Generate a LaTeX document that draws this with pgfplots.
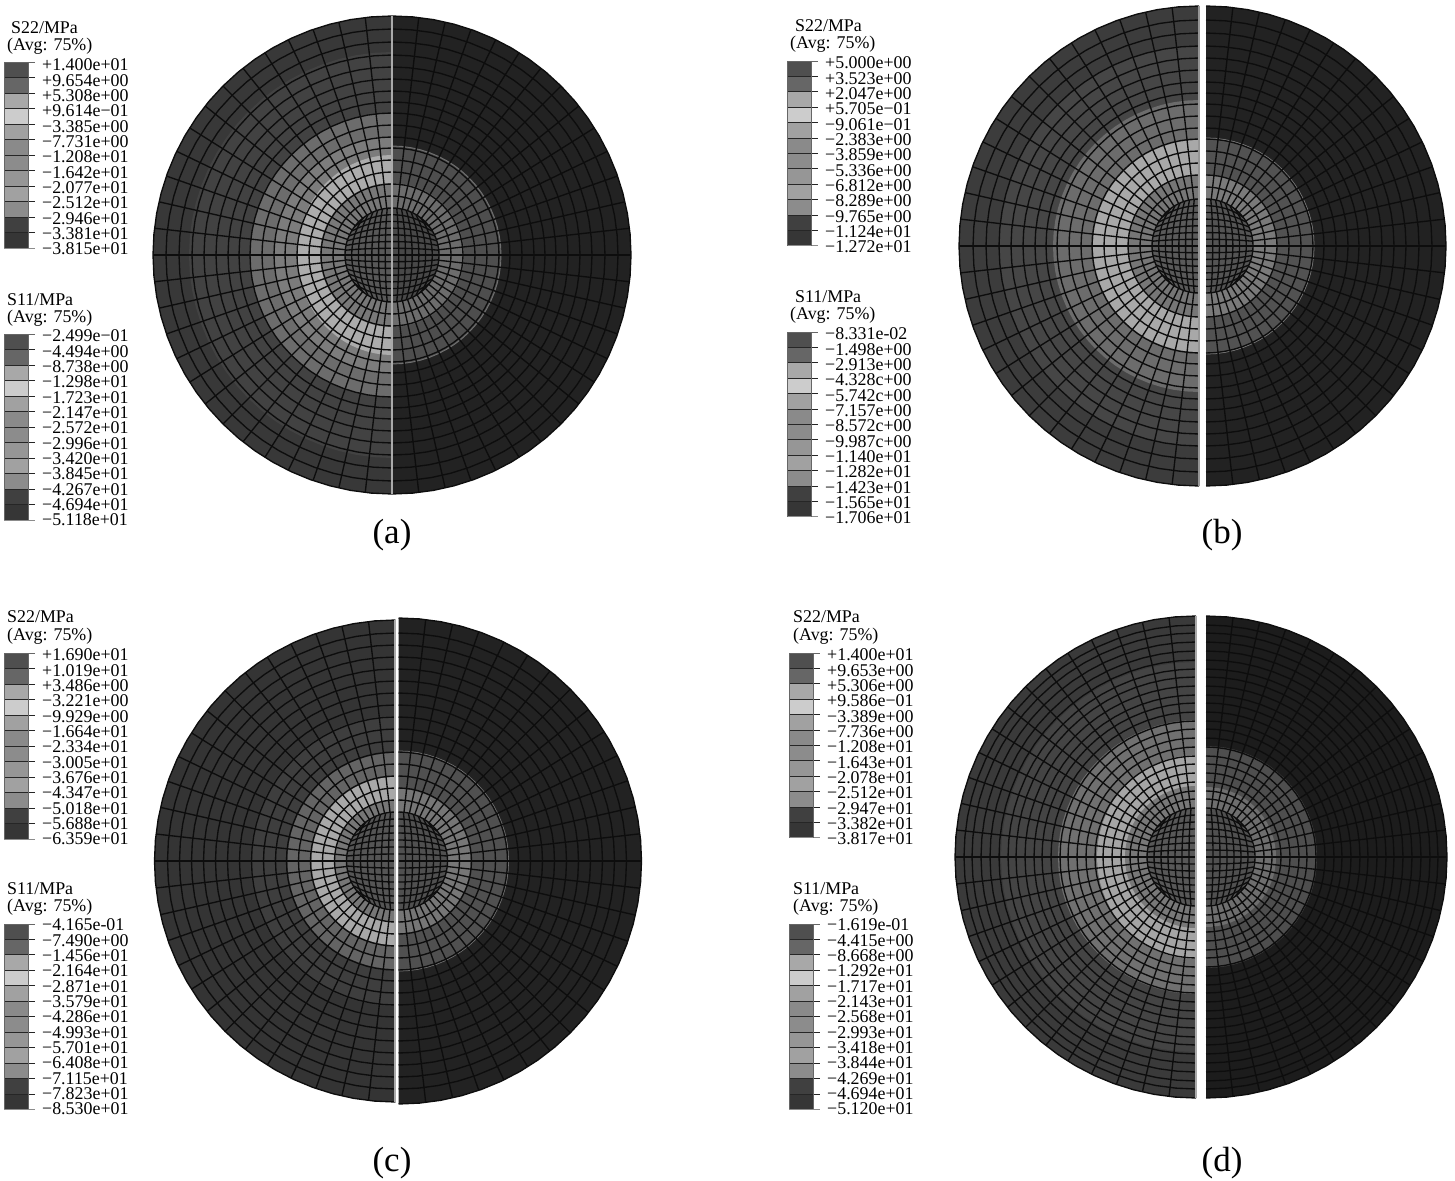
\documentclass[border=0pt]{standalone}
\usepackage{fontspec}
\setmainfont{Liberation Serif}
\usepackage{pgfplots}
\usepackage{pgfplotstable}
\pgfplotsset{compat=1.18,table/x index=0,table/y index=0}
\pgfplotstableread{
a
-90
-85
-80
-75
-70
-65
-60
-55
-50
-45
-40
-35
-30
-25
-20
-15
-10
-5
0
5
10
15
20
25
30
35
40
45
50
55
60
65
70
75
80
85
90
}\tArc
\pgfplotstableread{
t
0
1
}\tRad
\pgfplotstableread{
t
-1
-.875
-.75
-.625
-.5
-.375
-.25
-.125
0
.125
.25
.375
.5
.625
.75
.875
1
}\tFull
\pgfplotstableread{
t
0
.125
.25
.375
.5
.625
.75
.875
1
}\tHalf
\pgfplotstableread{
u v
0 0
1 0
1 1
0 1
}\tSq
\definecolor{lg0}{gray}{.31}
\definecolor{lg1}{gray}{.40}
\definecolor{lg2}{gray}{.66}
\definecolor{lg3}{gray}{.80}
\definecolor{lg4}{gray}{.63}
\definecolor{lg5}{gray}{.54}
\definecolor{lg6}{gray}{.55}
\definecolor{lg7}{gray}{.59}
\definecolor{lg8}{gray}{.63}
\definecolor{lg9}{gray}{.55}
\definecolor{lg10}{gray}{.25}
\definecolor{lg11}{gray}{.21}
\definecolor{mc}{gray}{.05}
\tikzset{mline/.style={draw=mc,line width=1.35pt,mark=none,line join=round}}
% cx cy s rx ry gray
\newcommand\band[6]{\addplot[fill={rgb,255:red,#6;green,#6;blue,#6},draw=none,mark=none]
  table[x expr=#1+#3*#4*cos(\thisrow{a}),y expr=#2+#5*sin(\thisrow{a})]{\tArc};}
\newcommand\rim[5]{\addplot[draw={rgb,255:red,#5;green,#5;blue,#5},line width=.9pt,mark=none]
  table[x expr=#1+#3*#4*cos(\thisrow{a}),y expr=#2+#4*sin(\thisrow{a})]{\tArc};}
\newcommand\ringp[4]{\addplot[mline]
  table[x expr=#1+#3*#4*cos(\thisrow{a}),y expr=#2+#4*sin(\thisrow{a})]{\tArc};}
% cx cy s r0 R angle
\newcommand\radp[6]{\addplot[mline]
  table[x expr=#1+#3*(#4+(#5-#4)*\thisrow{t})*cos(#6),y expr=#2+(#4+(#5-#4)*\thisrow{t})*sin(#6)]{\tRad};}
% cx cy s r u
\newcommand\corev[5]{\addplot[mline]
  table[x expr=#1+#3*#4*(#5)*sqrt(1-\thisrow{t}*\thisrow{t}/2),y expr=#2+#4*\thisrow{t}*sqrt(1-(#5)*(#5)/2)]{\tFull};}
\newcommand\coreh[5]{\addplot[mline]
  table[x expr=#1+#3*#4*\thisrow{t}*sqrt(1-(#5)*(#5)/2),y expr=#2+#4*(#5)*sqrt(1-\thisrow{t}*\thisrow{t}/2)]{\tHalf};}
% cx cy s r0 R rings
\newcommand\meshp[6]{%
  \pgfplotsinvokeforeach{#6}{\ringp{#1}{#2}{#3}{##1}}%
  \ringp{#1}{#2}{#3}{#4}%
  \pgfplotsinvokeforeach{-83.57,-77.14,-70.71,-64.29,-57.86,-51.43,-45,-38.57,-32.14,-25.71,-19.29,-12.86,-6.43,0,6.43,12.86,19.29,25.71,32.14,38.57,45,51.43,57.86,64.29,70.71,77.14,83.57}{\radp{#1}{#2}{#3}{#4}{#5}{##1}}%
  \pgfplotsinvokeforeach{.1429,.2857,.4286,.5714,.7143,.8571}{\corev{#1}{#2}{#3}{#4}{##1}}%
  \pgfplotsinvokeforeach{-.8571,-.7143,-.5714,-.4286,-.2857,-.1429,0,.1429,.2857,.4286,.5714,.7143,.8571}{\coreh{#1}{#2}{#3}{#4}{##1}}%
}
% x y0 dy
\newcommand\legbar[3]{%
  \pgfplotsinvokeforeach{0,1,2,3,4,5,6,7,8,9,10,11}{%
    \addplot[fill=lg##1,draw=none,mark=none] table[x expr=#1+24*\thisrow{u},y expr=#2+#3*(##1+\thisrow{v})]{\tSq};}%
  \pgfplotsinvokeforeach{1,2,3,4,5,6,7,8,9,10,11}{%
    \addplot[draw=black!85,line width=.9pt,mark=none] table[x expr=#1+31*\thisrow{t},y expr=#2+#3*##1]{\tRad};}%
  \addplot[draw=black!60,line width=.8pt,mark=none] table[x expr=#1+31*\thisrow{t},y expr=#2]{\tRad};
  \addplot[draw=black!45,line width=.8pt,mark=none] table[x expr=#1+31*\thisrow{t},y expr=#2+12*#3]{\tRad};
  \addplot[draw=black!60,line width=.8pt,mark=none] table[x expr=#1,y expr=#2+12*#3*\thisrow{t}]{\tRad};
  \addplot[draw=black!60,line width=.8pt,mark=none] table[x expr=#1+24,y expr=#2+12*#3*\thisrow{t}]{\tRad};
}
\newcommand\vln[4]{\addplot[draw={rgb,255:red,#4;green,#4;blue,#4},line width=1.2pt,mark=none] table[x expr=#1,y expr=#2+(#3-#2)*\thisrow{t}]{\tRad};}
\newcommand\legtext[5]{% labelx y0 dy, title1 y
  \foreach \v [count=\i from 0] in {#5}{%
    \pgfmathsetmacro\yy{1180-(#2+1+#3*\i)}%
    \node[lab] at (#1pt,\yy pt) {\v};}%
}
\newcommand\ttl[3]{\pgfmathsetmacro\yy{1180-#2}\node[lab] at (#1pt,\yy pt) {#3};}
\begin{document}
\begin{tikzpicture}[lab/.style={anchor=west,inner sep=0pt,font=\fontsize{17.9}{20}\selectfont},
  capt/.style={anchor=center,inner sep=0pt,font=\fontsize{35}{38}\selectfont}]
\path[use as bounding box] (0,0) rectangle (1455pt,1180pt);
\begin{axis}[at={(0,0)},anchor=south west,scale only axis,width=1455pt,height=1180pt,
  xmin=0,xmax=1455,ymin=0,ymax=1180,y dir=reverse,hide axis,clip=false]
% ---- (a) left
\band{392}{255}{-1}{239}{239}{56}
\band{392}{255}{-1}{203}{203}{66}
\band{392}{255}{-1}{142}{142}{108}
\band{392}{255}{-1}{118}{118}{124}
\band{392}{255}{-1}{95}{100}{172}
\band{392}{255}{-1}{72}{72}{120}
\band{392}{255}{-1}{47}{47}{88}
\meshp{392}{255}{-1}{47}{239}{59,71,83,95,107,118,130,142,153,164,176,188,200,213,226,239}
% (a) right
\band{392}{255}{1}{239}{239}{34}
\band{392}{255}{1}{109}{109}{78}
\rim{392}{255}{1}{109}{112}
\band{392}{255}{1}{72}{72}{108}
\band{392}{255}{1}{47}{47}{72}
\meshp{392}{255}{1}{47}{239}{59,71,83,95,107,118,130,142,153,164,176,188,200,213,226,239}
\vln{392}{16}{494}{170}
% ---- (b) left
\band{1199}{246}{-1}{240}{240}{60}
\band{1199}{246}{-1}{200}{200}{70}
\band{1199}{246}{-1}{146}{146}{108}
\band{1199}{246}{-1}{106}{106}{168}
\band{1199}{246}{-1}{71}{71}{118}
\band{1199}{246}{-1}{47}{47}{90}
\meshp{1199}{246}{-1}{47}{240}{59,71,83,95,107,118,130,142,153,164,176,188,200,213,226,240}
\band{1206}{246}{1}{240}{240}{34}
\band{1206}{246}{1}{108}{108}{82}
\rim{1206}{246}{1}{108}{125}
\band{1206}{246}{1}{71}{71}{122}
\band{1206}{246}{1}{47}{47}{84}
\meshp{1206}{246}{1}{47}{240}{59,71,83,95,107,118,130,142,153,164,176,188,200,213,226,240}
\vln{1199}{6}{486}{150}
% ---- (c)
\band{395.5}{861}{-1}{241}{241}{52}
\band{395.5}{861}{-1}{145}{145}{62}
\band{395.5}{861}{-1}{108}{108}{100}
\band{395.5}{861}{-1}{84}{84}{168}
\band{395.5}{861}{-1}{61}{61}{118}
\band{395.5}{861}{-1}{49}{49}{85}
\meshp{395.5}{861}{-1}{49}{241}{61,73,85,97,109,120,132,144,156,168,180,192,204,216,228,241}
\band{398.5}{861}{1}{243}{243}{34}
\band{398.5}{861}{1}{110}{110}{80}
\rim{398.5}{861}{1}{110}{115}
\band{398.5}{861}{1}{72}{72}{118}
\band{398.5}{861}{1}{49}{49}{80}
\meshp{398.5}{861}{1}{49}{243}{61,73,85,97,109,120,132,144,156,168,180,192,204,216,228,243}
\vln{395}{620}{1102}{170}
% ---- (d)
\band{1196}{857}{-1}{241}{241}{58}
\band{1196}{857}{-1}{195}{195}{68}
\band{1196}{857}{-1}{138}{137}{112}
\band{1196}{857}{-1}{99}{102}{165}
\band{1196}{857}{-1}{71}{71}{120}
\band{1196}{857}{-1}{49}{49}{88}
\meshp{1196}{857}{-1}{49}{241}{58,66,75,84,93,101,110,119,128,136,145,154,162,171,180,188,197,206,215,224,232,241}
\band{1206}{857}{1}{241}{241}{28}
\band{1206}{857}{1}{111}{111}{78}
\band{1206}{857}{1}{70}{70}{110}
\band{1206}{857}{1}{48}{48}{80}
\meshp{1206}{857}{1}{49}{241}{58,66,75,84,93,101,110,119,128,136,145,154,162,171,180,188,197,206,215,224,232,241}
\vln{1196}{616}{1098}{170}
% ---- legends
\legbar{4}{62}{15.5}
\legbar{4}{334}{15.5}
\legbar{787}{61}{15.4}
\legbar{787}{332}{15.4}
\legbar{4}{653}{15.5}
\legbar{4}{924}{15.45}
\legbar{789}{653}{15.4}
\legbar{789}{924}{15.45}
\end{axis}
\ttl{11}{28}{S22/MPa}\ttl{7}{46}{(Avg: 75\%)}
\legtext{42}{64}{15.33}{}{+1.400e+01,+9.654e+00,+5.308e+00,+9.614e−01,−3.385e+00,−7.731e+00,−1.208e+01,−1.642e+01,−2.077e+01,−2.512e+01,−2.946e+01,−3.381e+01,−3.815e+01}
\ttl{7}{300}{S11/MPa}\ttl{7}{318}{(Avg: 75\%)}
\legtext{42}{335}{15.33}{}{−2.499e−01,−4.494e+00,−8.738e+00,−1.298e+01,−1.723e+01,−2.147e+01,−2.572e+01,−2.996e+01,−3.420e+01,−3.845e+01,−4.267e+01,−4.694e+01,−5.118e+01}
\ttl{795}{26}{S22/MPa}\ttl{790}{44}{(Avg: 75\%)}
\legtext{825}{62}{15.33}{}{+5.000e+00,+3.523e+00,+2.047e+00,+5.705e−01,−9.061e−01,−2.383e+00,−3.859e+00,−5.336e+00,−6.812e+00,−8.289e+00,−9.765e+00,−1.124e+01,−1.272e+01}
\ttl{795}{297}{S11/MPa}\ttl{790}{315}{(Avg: 75\%)}
\legtext{825}{333}{15.33}{}{−8.331e-02,−1.498e+00,−2.913e+00,−4.328c+00,−5.742c+00,−7.157e+00,−8.572c+00,−9.987c+00,−1.140e+01,−1.282e+01,−1.423e+01,−1.565e+01,−1.706e+01}
\ttl{7}{617}{S22/MPa}\ttl{7}{636}{(Avg: 75\%)}
\legtext{42}{654}{15.33}{}{+1.690e+01,+1.019e+01,+3.486e+00,−3.221e+00,−9.929e+00,−1.664e+01,−2.334e+01,−3.005e+01,−3.676e+01,−4.347e+01,−5.018e+01,−5.688e+01,−6.359e+01}
\ttl{7}{889}{S11/MPa}\ttl{7}{907}{(Avg: 75\%)}
\legtext{42}{924}{15.33}{}{−4.165e-01,−7.490e+00,−1.456e+01,−2.164e+01,−2.871e+01,−3.579e+01,−4.286e+01,−4.993e+01,−5.701e+01,−6.408e+01,−7.115e+01,−7.823e+01,−8.530e+01}
\ttl{793}{617}{S22/MPa}\ttl{793}{636}{(Avg: 75\%)}
\legtext{827}{654}{15.33}{}{+1.400e+01,+9.653e+00,+5.306e+00,+9.586e−01,−3.389e+00,−7.736e+00,−1.208e+01,−1.643e+01,−2.078e+01,−2.512e+01,−2.947e+01,−3.382e+01,−3.817e+01}
\ttl{793}{889}{S11/MPa}\ttl{793}{907}{(Avg: 75\%)}
\legtext{827}{924}{15.33}{}{−1.619e-01,−4.415e+00,−8.668e+00,−1.292e+01,−1.717e+01,−2.143e+01,−2.568e+01,−2.993e+01,−3.418e+01,−3.844e+01,−4.269e+01,−4.694e+01,−5.120e+01}
\node[capt] at (392pt,645pt) {(a)};
\node[capt] at (1222pt,645pt) {(b)};
\node[capt] at (392pt,17pt) {(c)};
\node[capt] at (1222pt,17pt) {(d)};
\end{tikzpicture}
\end{document}
